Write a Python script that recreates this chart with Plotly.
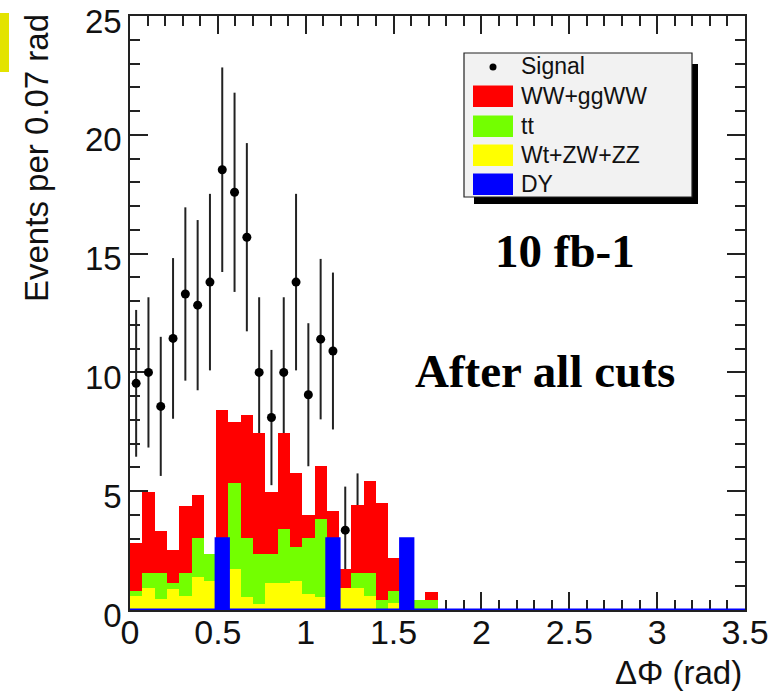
import numpy as np
import plotly.graph_objects as go

# Binning: 50 bins of 0.07 rad between 0 and 3.5
bin_width = 0.07
n_bins = 50

# Per-component contents of the first 25 bins (remaining bins are empty)
ww_ggww = [2.00, 3.43, 1.78, 1.40, 2.84, 1.79, 0.00, 5.40, 2.55, 5.15,
           5.10, 2.63, 4.01, 3.11, 0.93, 2.21, 1.17, 0.79, 2.89, 3.90,
           4.10, 1.39, 0.00, 0.00, 0.33]
ttbar = [0.21, 0.61, 1.07, 0.25, 0.93, 1.67, 1.14, 0.00, 3.63, 2.51,
         2.09, 1.21, 2.30, 1.47, 2.39, 3.30, 0.00, 0.00, 0.61, 0.95,
         0.42, 0.52, 0.00, 0.42, 0.42]
wt_zw_zz = [0.59, 0.93, 0.47, 0.88, 0.61, 1.38, 1.20, 0.00, 1.72, 0.54,
            0.25, 1.13, 1.13, 1.20, 0.66, 0.54, 0.00, 0.93, 0.93, 0.59,
            0.00, 0.28, 0.00, 0.00, 0.00]
drell_yan = [0, 0, 0, 0, 0, 0, 0, 3.0, 0, 0,
             0, 0, 0, 0, 0, 0, 3.0, 0, 0, 0,
             0, 0, 3.0, 0, 0]

# Signal contents (non-empty bins only)
signal = [9.54, 10.0, 8.57, 11.43, 13.3, 12.83, 13.8, 18.53, 17.58, 15.69,
          10.0, 8.1, 10.0, 13.8, 9.06, 11.4, 10.9, 3.36, 3.8]

series_names = ["Signal", "WW+ggWW", "tt", "Wt+ZW+ZZ", "DY"]
colors = {"WW+ggWW": "#ff0000", "tt": "#73ff00", "Wt+ZW+ZZ": "#ffff00", "DY": "#0000ff"}

x_ticks = [0, 0.5, 1, 1.5, 2, 2.5, 3, 3.5]
x_tick_text = ["0", "0.5", "1", "1.5", "2", "2.5", "3", "3.5"]
y_ticks = [0, 5, 10, 15, 20, 25]
y_tick_text = ["0", "5", "10", "15", "20", "25"]


def full(values):
    arr = np.zeros(n_bins)
    arr[:len(values)] = values
    return arr


edges = np.arange(n_bins + 1) * bin_width
centers = edges[:-1] + bin_width / 2

fig = go.Figure()

# Signal points with Poisson error bars (drawn beneath the background stack)
sig = np.array(signal)
fig.add_trace(go.Scatter(
    x=centers[:len(sig)], y=sig, mode="markers",
    marker=dict(color="black", size=9),
    error_y=dict(type="data", array=np.sqrt(sig), color="#222222", thickness=2, width=0),
    xaxis="x", yaxis="y", showlegend=False, hoverinfo="skip",
))

# Background stack on an overlaid pair of axes so it is drawn above the signal
for name, vals in [("DY", drell_yan), ("Wt+ZW+ZZ", wt_zw_zz), ("tt", ttbar), ("WW+ggWW", ww_ggww)]:
    fig.add_trace(go.Bar(
        x=centers, y=full(vals), width=bin_width,
        marker=dict(color=colors[name], line=dict(width=0)),
        name=name, xaxis="x2", yaxis="y2", showlegend=False, hoverinfo="skip",
    ))

# DY histogram outline (runs along zero across the full range)
dy_full = full(drell_yan)
fig.add_trace(go.Scatter(
    x=edges, y=np.append(dy_full, dy_full[-1]), mode="lines",
    line=dict(color="#0000ff", width=3, shape="hv"),
    xaxis="x2", yaxis="y2", showlegend=False, hoverinfo="skip",
))

W, H = 773, 691
PL, PR, PT, PB = 130, 745, 16, 610


def px(x):
    return (x - PL) / (PR - PL)


def py(y):
    return (PB - y) / (PB - PT)


axis_font = dict(family="Liberation Sans, Arial, sans-serif", size=33, color="#111111")
common = dict(showgrid=False, zeroline=False, showline=True, linecolor="#222222", linewidth=1.5,
              mirror="ticks", ticks="inside", ticklen=18, tickwidth=1.5, tickcolor="#222222",
              layer="below traces", ticklabeloverflow="allow", automargin=False)

shapes = []
annotations = []

# Legend panel with drop shadow
shapes.append(dict(type="rect", xref="paper", yref="paper", x0=px(474), x1=px(698), y0=py(204), y1=py(64),
                   fillcolor="black", line=dict(width=0), layer="above"))
shapes.append(dict(type="rect", xref="paper", yref="paper", x0=px(464), x1=px(692), y0=py(197), y1=py(53),
                   fillcolor="#f2f2f2", line=dict(color="#222222", width=1.2), layer="above"))
legend_rows = {"Signal": 66, "WW+ggWW": 96, "tt": 126, "Wt+ZW+ZZ": 155, "DY": 184}
for name in series_names:
    yc = legend_rows[name]
    if name == "Signal":
        shapes.append(dict(type="circle", xref="paper", yref="paper",
                           x0=px(489.5), x1=px(496.5), y0=py(yc + 4.5), y1=py(yc - 2.5),
                           fillcolor="black", line=dict(width=0), layer="above"))
    else:
        shapes.append(dict(type="rect", xref="paper", yref="paper",
                           x0=px(473), x1=px(513), y0=py(yc + 11), y1=py(yc - 10.5),
                           fillcolor=colors[name], line=dict(width=0), layer="above"))
    annotations.append(dict(text=name, xref="paper", yref="paper", x=px(519), y=py(yc),
                            xanchor="left", yanchor="middle", showarrow=False,
                            font=dict(family="Liberation Sans, Arial, sans-serif", size=23, color="#111111")))

# Yellow marker block at the top-left corner
shapes.append(dict(type="rect", xref="paper", yref="paper", x0=px(0), x1=px(9), y0=py(72), y1=py(13),
                   fillcolor="#e3e300", line=dict(width=0), layer="above"))

# Axis titles
annotations.append(dict(text="Events per 0.07 rad", xref="paper", yref="paper", x=px(36), y=py(158),
                        textangle=-90, xanchor="center", yanchor="middle", showarrow=False, font=axis_font))
annotations.append(dict(text="ΔΦ (rad)", xref="paper", yref="paper", x=px(744), y=py(672),
                        xanchor="right", yanchor="middle", showarrow=False, font=axis_font))

# Luminosity and selection labels
serif = dict(family="Liberation Serif, Times New Roman, serif", size=47, color="black")
annotations.append(dict(text="<b>10 fb-1</b>", xref="paper", yref="paper", x=px(565), y=py(251),
                        xanchor="center", yanchor="middle", showarrow=False, font=serif))
annotations.append(dict(text="<b>After all cuts</b>", xref="paper", yref="paper", x=px(545), y=py(371),
                        xanchor="center", yanchor="middle", showarrow=False, font=serif))

fig.update_layout(
    width=W, height=H,
    margin=dict(l=PL, r=W - PR, t=PT, b=H - PB, autoexpand=False),
    paper_bgcolor="white", plot_bgcolor="white",
    barmode="stack", bargap=0,
    showlegend=False,
    xaxis=dict(range=[0, 3.5], tickvals=x_ticks, ticktext=x_tick_text, tickfont=dict(axis_font, size=34),
               ticklabelstandoff=-9,
               minor=dict(dtick=0.1, ticklen=10, ticks="inside", tickcolor="#222222", tickwidth=1.5),
               **common),
    yaxis=dict(range=[0, 25], tickvals=y_ticks, ticktext=y_tick_text, tickfont=axis_font,
               ticklabelshift=5,
               minor=dict(dtick=1, ticklen=10, ticks="inside", tickcolor="#222222", tickwidth=1.5),
               **common),
    xaxis2=dict(range=[0, 3.5], overlaying="x", visible=False),
    yaxis2=dict(range=[0, 25], overlaying="y", visible=False),
    shapes=shapes,
    annotations=annotations,
)

fig.write_html("out.html")
